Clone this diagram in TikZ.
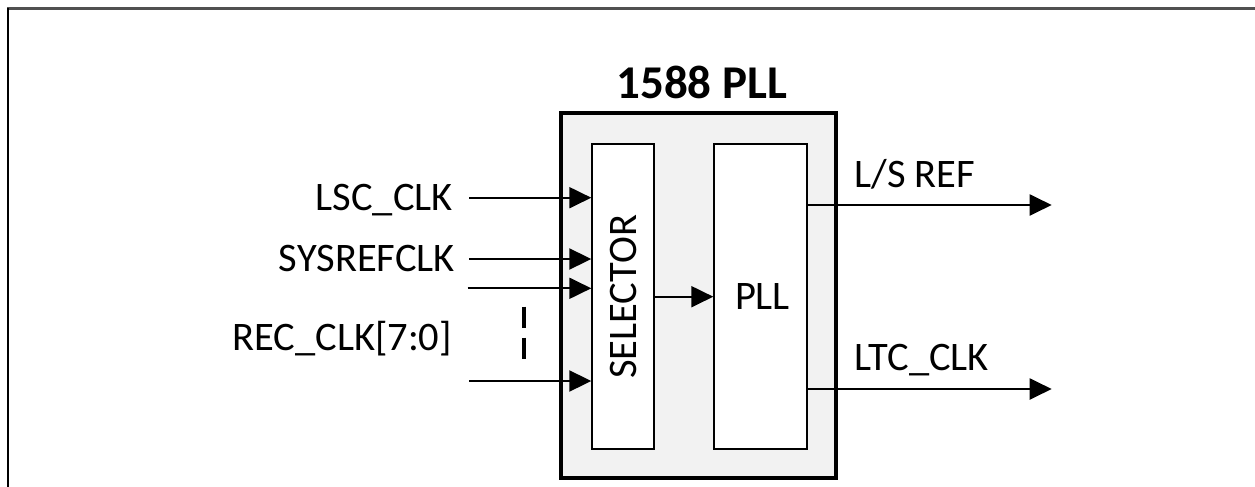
\documentclass[tikz,border=0pt]{standalone}
\usepackage{fontspec}
\setmainfont{Carlito}
\usetikzlibrary{arrows.meta}
\definecolor{boxfill}{HTML}{F2F2F2}
\definecolor{framegray}{HTML}{505050}
\tikzset{
  lbl/.style={font=\fontsize{40.5}{42}\selectfont, inner sep=0pt},
  blockbox/.style={draw, line width=2pt, fill=white, inner sep=0pt},
  sig/.style={line width=2pt, -{Triangle[length=22pt,width=21pt]}},
}
\begin{document}
\begin{tikzpicture}[x=1pt,y=-1pt]
\useasboundingbox (0,0) rectangle (1255,487);
% frame
\draw[framegray, line width=2.3pt] (7,8.5) -- (1255,8.5);
\draw[black, line width=2pt] (7.5,8) -- (7.5,487);
% outer block
\node[draw, line width=4pt, fill=boxfill, minimum width=275.3pt, minimum height=364.7pt, inner sep=0pt] (outer) at (698.3,295.3) {};
\node[font=\fontsize{47}{50}\selectfont\bfseries, anchor=base, inner sep=0pt] (title) at (701.7,98.3) {1588 PLL};
% inner blocks
\node[blockbox, minimum width=62pt, minimum height=305pt] (sel) at (623.3,296.8) {};
\node[lbl, rotate=90] (seltxt) at (sel.center) {SELECTOR};
\node[blockbox, minimum width=92.4pt, minimum height=305pt] (pll) at (760.5,296.8) {};
\node[lbl] (plltxt) at (762.5,297) {PLL};
% inputs
\coordinate (i1) at (469.3,197.7);
\coordinate (i2) at (469.3,259);
\coordinate (i3) at (467.7,288.3);
\coordinate (i4) at (469.3,381);
\draw[sig] (i1) -- (i1 -| sel.west);
\draw[sig] (i2) -- (i2 -| sel.west);
\draw[sig] (i3) -- (i3 -| sel.west);
\draw[sig] (i4) -- (i4 -| sel.west);
\node[lbl, anchor=base east] (l1) at (453,210.7) {LSC\_CLK};
\node[lbl, anchor=base east] (l2) at (455,271.7) {SYSREFCLK};
\node[lbl, anchor=base east] (l3) at (452,350) {REC\_CLK[7:0]};
\coordinate (d1) at (524,306.7);
\coordinate (d2) at (524,359.3);
\draw[line width=3.5pt, dash pattern=on 21.6pt off 9.4pt] (d1) -- (d2);
% selector -> pll
\coordinate (m) at (654,296.7);
\draw[sig] (m -| sel.east) -- (m -| pll.west);
% outputs
\coordinate (o1) at (1051.7,205);
\coordinate (o2) at (1051.7,389);
\draw[sig] (o1 -| pll.east) -- (o1);
\draw[sig] (o2 -| pll.east) -- (o2);
\node[lbl, anchor=base west] (r1) at (854.3,187.7) {L/S REF};
\node[lbl, anchor=base west] (r2) at (854.3,370.7) {LTC\_CLK};
\end{tikzpicture}
\end{document}
